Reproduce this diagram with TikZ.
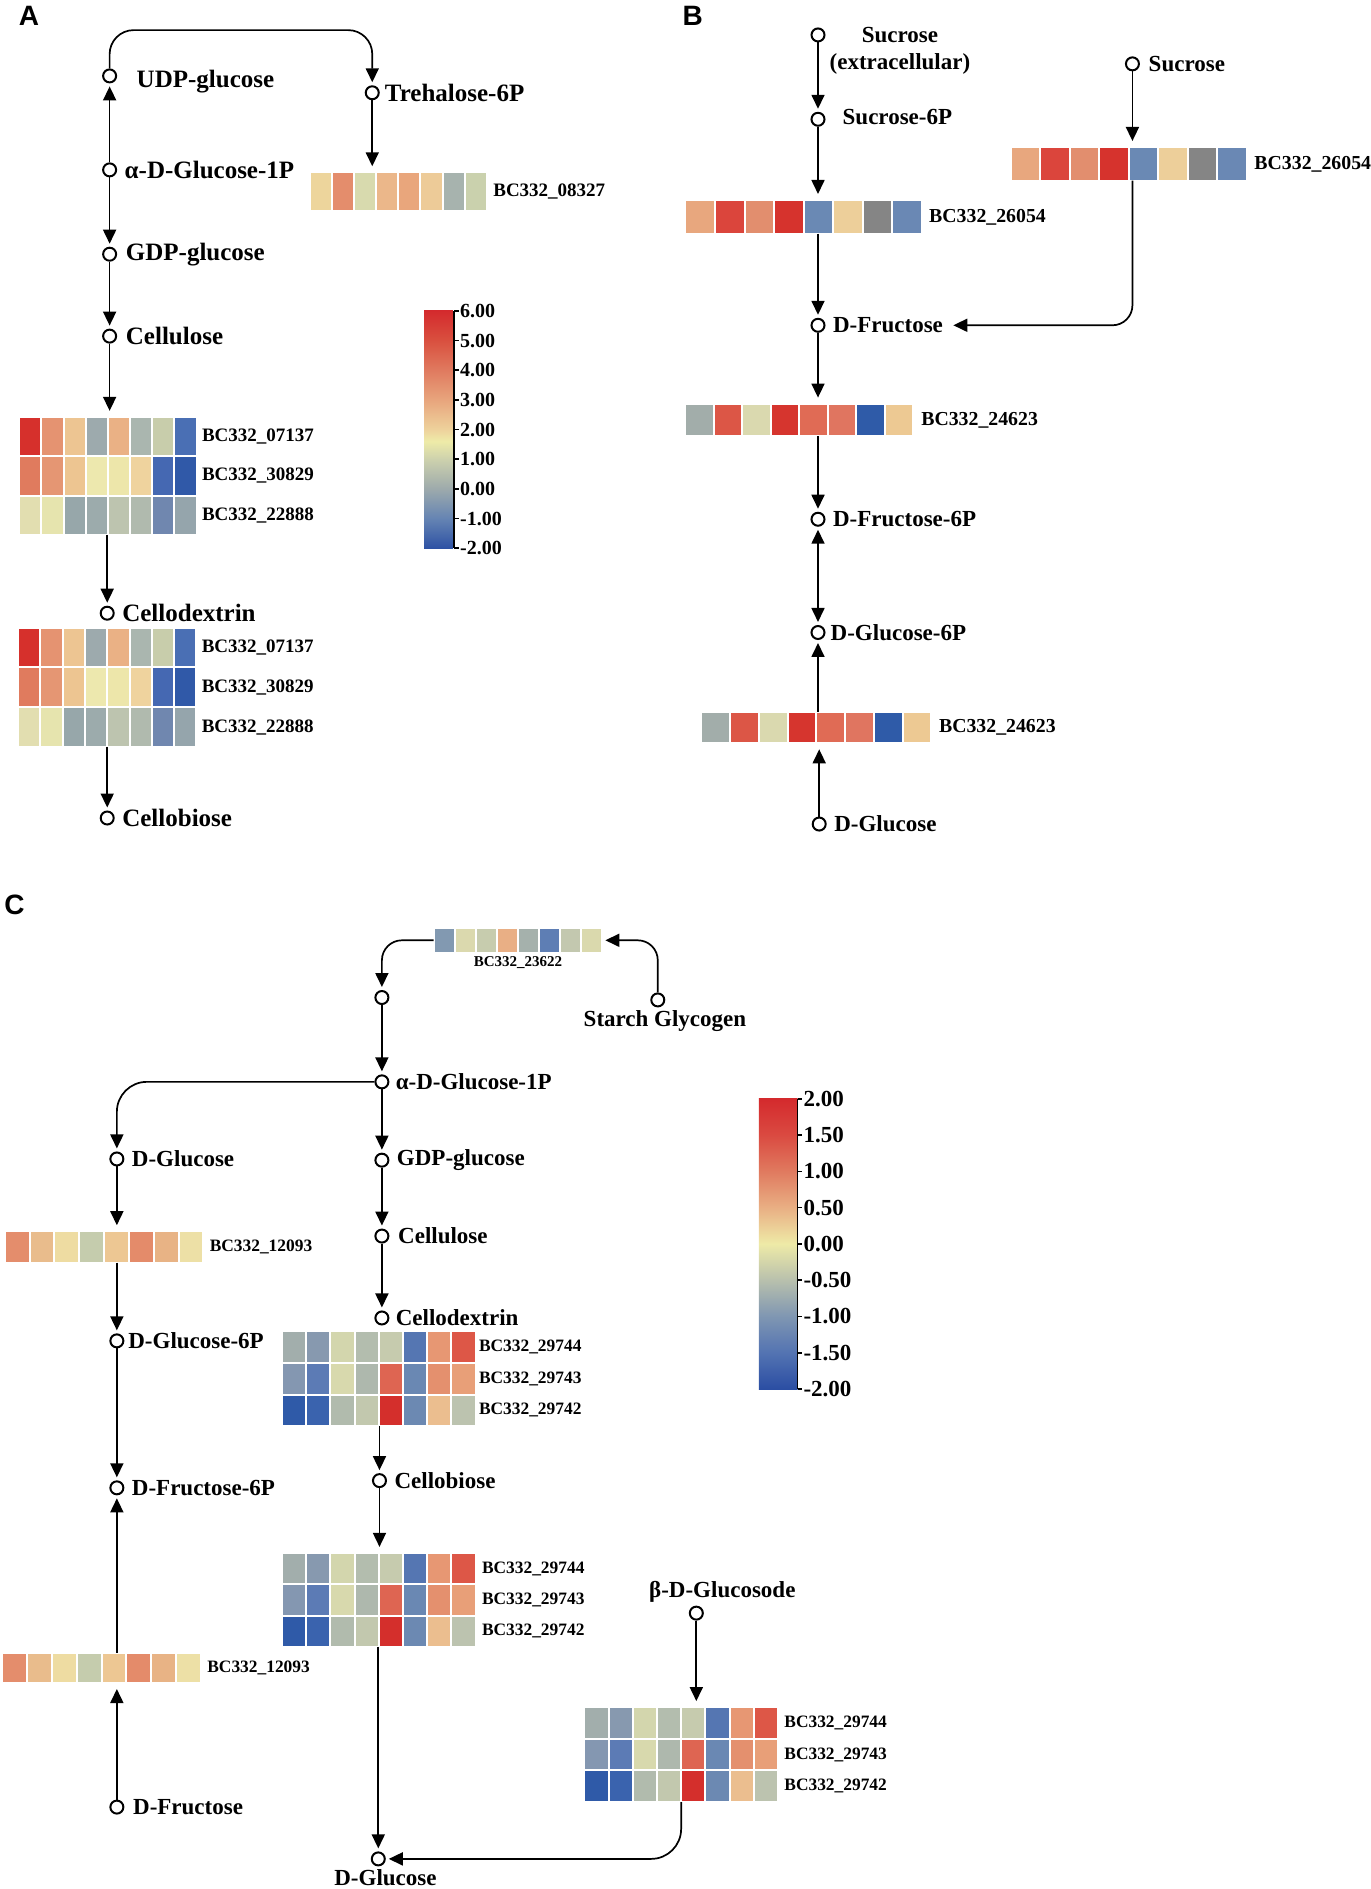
\documentclass[tikz,border=0pt]{standalone}
\usepackage{fontspec}
\setmainfont{Liberation Serif}
\newfontfamily\panelfont{Liberation Sans}
\usetikzlibrary{arrows.meta,positioning}

% colour bar of panel A (-2 ... 6)
\definecolor{bA0}{HTML}{2E52A4}\definecolor{bA1}{HTML}{6584B3}\definecolor{bA2}{HTML}{9DAAAC}
\definecolor{bA3}{HTML}{CDD1AD}\definecolor{bA4}{HTML}{EEEBA8}\definecolor{bA5}{HTML}{EED29C}
\definecolor{bA6}{HTML}{E8A57D}\definecolor{bA7}{HTML}{E07A5F}\definecolor{bA8}{HTML}{D9503F}
\definecolor{bA9}{HTML}{D42A2D}
\pgfdeclareverticalshading{barA}{100bp}{color(0bp)=(bA0); color(25bp)=(bA0); color(31.25bp)=(bA1);
  color(37.5bp)=(bA2); color(43.75bp)=(bA3); color(47.5bp)=(bA4); color(50bp)=(bA5);
  color(56.25bp)=(bA6); color(62.5bp)=(bA7); color(68.75bp)=(bA8); color(75bp)=(bA9); color(100bp)=(bA9)}
% colour bar of panel C (-2 ... 2)
\definecolor{bC0}{HTML}{2B4EA3}\definecolor{bC1}{HTML}{5373B2}\definecolor{bC2}{HTML}{7F96B2}
\definecolor{bC3}{HTML}{B8C0AD}\definecolor{bC4}{HTML}{EEEAA7}\definecolor{bC5}{HTML}{E9AF84}
\definecolor{bC6}{HTML}{E07A5F}\definecolor{bC7}{HTML}{DA4A41}\definecolor{bC8}{HTML}{D42A2D}
\pgfdeclareverticalshading{barC}{100bp}{color(0bp)=(bC0); color(25bp)=(bC0); color(31.25bp)=(bC1);
  color(37.5bp)=(bC2); color(43.75bp)=(bC3); color(50bp)=(bC4); color(56.25bp)=(bC5);
  color(62.5bp)=(bC6); color(68.75bp)=(bC7); color(75bp)=(bC8); color(100bp)=(bC8)}

\newlength\px \setlength\px{0.6024pt}
% one heat-map row: name, x, y, cell width, cell height, colours, label place, label
\newcommand{\hmrow}[8]{%
  \node[hmbox, minimum width={8*#4*\px}, minimum height={#5*\px}, anchor=north west] (#1) at (#2,#3) {};
  \foreach \hc [count=\i from 0] in {#6} {
    \edef\tmp{\noexpand\definecolor{cellfill}{HTML}{\hc}}\tmp
    \fill[cellfill, draw=white, line width=1pt] ({#2+\i*#4},#3) rectangle ++(#4,#5);
  }
  \node[gene, #7 of #1] (#1l) {#8};
}

\begin{document}
\begin{tikzpicture}[x=0.6024pt,y=-0.6024pt]
        \tikzstyle{metdot}=[circle, draw, line width=1pt, inner sep=0pt, minimum size=6.5pt];
        \tikzstyle{cpd}=[inner sep=1pt, font=\fontsize{12.5}{14}\selectfont\bfseries];
        \tikzstyle{gene}=[inner sep=1pt, font=\fontsize{9.5}{11}\selectfont\bfseries];
        \tikzstyle{hmbox}=[rectangle, inner sep=0pt, outer sep=0pt];
        \tikzstyle{arr}=[line width=0.85pt, -{Triangle[width=6.5pt,length=7pt]}, shorten >=1.5pt];
        \tikzstyle{tohm}=[shorten >=3pt];
        \tikzstyle{panel}=[inner sep=0pt, font=\panelfont\fontsize{14}{16}\selectfont\bfseries];
        \tikzstyle{cbtick}=[inner sep=1pt, anchor=west];
        \path[use as bounding box, fill=white] (0,0) rectangle (1138,1568);

        % ---------------- A ----------------
        \node[panel] (labA) at (24,13) {A};
        \node[metdot] (udpA) at (91,63) {};
        \node[cpd, right=8.6pt of udpA, yshift=-3pt] (udpAl) {UDP-glucose};
        \node[metdot] (treA) at (309,77) {};
        \node[cpd, right=1.4pt of treA] (treAl) {Trehalose-6P};
        \node[metdot] (alphaA) at (91,141) {};
        \node[cpd, right=2.6pt of alphaA] (alphaAl) {α-D-Glucose-1P};
        \node[metdot] (gdpA) at (91,211) {};
        \node[cpd, right=3.2pt of gdpA] (gdpAl) {GDP-glucose};
        \node[metdot] (celA) at (91,279) {};
        \node[cpd, right=3.2pt of celA] (celAl) {Cellulose};
        \node[metdot] (cdxA) at (89,509) {};
        \node[cpd, right=2.6pt of cdxA] (cdxAl) {Cellodextrin};
        \node[metdot] (cbiA) at (89,679) {};
        \node[cpd, right=2.6pt of cbiA] (cbiAl) {Cellobiose};
        \hmrow{hmA1}{257}{143}{18.4}{32}{EDD59C,E48D6C,D8DAAE,EBB78A,E9A67C,EDCB98,A7B3AE,CAD1AD}{right=2pt}{BC332\_08327}
        \hmrow{hmA2a}{16}{346}{18.4}{32.7}{D6302C,E59371,EDC592,9DAAAD,EAB185,AAB6AF,C8CDAB,4A6FB4}{right=1.5pt}{BC332\_07137}
        \hmrow{hmA2b}{16}{378.7}{18.4}{32.7}{E07B5E,E59673,EDC591,EDE8AE,EDE6AA,EFD39E,4568B2,3059A8}{right=1.5pt}{BC332\_30829}
        \hmrow{hmA2c}{16}{411.4}{18.4}{32.7}{E2DEB0,E6E4AE,97A7AA,9CABAC,BDC4AF,B0BAAE,7087AF,95A5AC}{right=1.5pt}{BC332\_22888}
        \hmrow{hmA3a}{15}{521}{18.5}{33}{D6302C,E59371,EDC592,9DAAAD,EAB185,AAB6AF,C8CDAB,4A6FB4}{right=1.5pt}{BC332\_07137}
        \hmrow{hmA3b}{15}{554}{18.5}{33}{E07B5E,E59673,EDC591,EDE8AE,EDE6AA,EFD39E,4568B2,3059A8}{right=1.5pt}{BC332\_30829}
        \hmrow{hmA3c}{15}{587}{18.5}{33}{E2DEB0,E6E4AE,97A7AA,9CABAC,BDC4AF,B0BAAE,7087AF,95A5AC}{right=1.5pt}{BC332\_22888}
        \coordinate (archA) at (0,25);
        \draw[arr, rounded corners=12pt] (udpA.north) -- (udpA.north |- archA) -- (treA.north |- archA) -- (treA.north);
        \draw[arr] (alphaA) -- (udpA);
        \draw[arr] (alphaA) -- (gdpA);
        \draw[arr] (gdpA) -- (celA);
        \draw[arr, tohm] (treA) -- (hmA1.north -| treA);
        \draw[arr, tohm] (celA) -- (hmA2a.north -| celA);
        \draw[arr] (hmA2c.south -| cdxA) -- (cdxA);
        \draw[arr] (hmA3c.south -| cbiA) -- (cbiA);
        % colour bar A
        \shade[shading=barA] (352,258) rectangle (376,455);
        \draw[line width=0.8pt] (377,258) -- (377,455);
        \foreach \v [count=\i from 0] in {6.00,5.00,4.00,3.00,2.00,1.00,0.00,-1.00,-2.00} {
            \draw[line width=0.8pt] (377,{258+\i*24.625}) -- ++(4,0);
            \node[cbtick, font=\fontsize{10}{12}\selectfont\bfseries] (cbA\i) at (380,{258+\i*24.625}) {\v};
        }

        % ---------------- B ----------------
        \begin{scope}[cpd/.style={inner sep=1pt, font=\fontsize{11.5}{13.3}\selectfont\bfseries},
                      gene/.style={inner sep=1pt, font=\fontsize{9.9}{11}\selectfont\bfseries}]
        \node[panel] (labB) at (575,13) {B};
        \node[metdot] (sexB) at (679,29) {};
        \node[cpd, align=center] (sexBl) at (747,42) {Sucrose\\(extracellular)};
        \node[metdot] (s6pB) at (679,99) {};
        \node[cpd, right=7.4pt of s6pB, yshift=1pt] (s6pBl) {Sucrose-6P};
        \node[metdot] (sucB) at (940,53) {};
        \node[cpd, right=3.2pt of sucB] (sucBl) {Sucrose};
        \hmrow{hmB1}{569}{166}{24.5}{28}{E8A77E,DB453C,E28E6E,D6332D,6A89B4,EDCF9A,858585,6A88B4}{right=2.6pt}{BC332\_26054}
        \hmrow{hmB2}{839}{122}{24.5}{28}{E8A77E,DB453C,E28E6E,D6332D,6A89B4,EDCF9A,858585,6A88B4}{right=2.6pt}{BC332\_26054}
        \node[metdot] (fruB) at (679,270) {};
        \node[cpd, right=2.6pt of fruB] (fruBl) {D-Fructose};
        \hmrow{hmB3}{569}{335}{23.6}{27}{A2ADAA,DC5646,DAD9AF,D6352E,E06B55,E07560,2F5BA8,EDC993}{right=3pt}{BC332\_24623}
        \node[metdot] (f6pB) at (679,431) {};
        \node[cpd, right=2.6pt of f6pB] (f6pBl) {D-Fructose-6P};
        \node[metdot] (g6pB) at (679,525) {};
        \node[cpd, right=1.4pt of g6pB] (g6pBl) {D-Glucose-6P};
        \hmrow{hmB4}{582}{591}{23.9}{26}{A2ADAA,DC5646,DAD9AF,D6352E,E06B55,E07560,2F5BA8,EDC993}{right=2.6pt}{BC332\_24623}
        \node[metdot] (glcB) at (680,684) {};
        \node[cpd, right=2.6pt of glcB] (glcBl) {D-Glucose};
        \draw[arr] (sexB) -- (s6pB);
        \draw[arr, tohm] (s6pB) -- (hmB1.north -| s6pB);
        \draw[arr] (hmB1.south -| fruB) -- (fruB);
        \draw[arr, tohm] (sucB) -- (hmB2.north -| sucB);
        \draw[arr, rounded corners=10pt, shorten >=4pt] (hmB2.south -| sucB) |- (fruBl.east);
        \draw[arr, tohm] (fruB) -- (hmB3.north -| fruB);
        \draw[arr] (hmB3.south -| f6pB) -- (f6pB);
        \draw[arr, {Triangle[width=6.5pt,length=7pt]}-{Triangle[width=6.5pt,length=7pt]}, shorten <=1.5pt] (f6pB) -- (g6pB);
        \draw[arr] (hmB4.north -| g6pB) -- (g6pB);
        \draw[arr, tohm] (glcB) -- (hmB4.south -| glcB);
        \end{scope}

        % ---------------- C ----------------
        \begin{scope}[cpd/.style={inner sep=1pt, font=\fontsize{11.5}{13.3}\selectfont\bfseries},
                      gene/.style={inner sep=1pt, font=\fontsize{8.7}{10}\selectfont\bfseries}]
        \node[panel] (labC) at (12,751) {C};
        \begin{scope}[gene/.style={inner sep=0.5pt, font=\fontsize{7.5}{9}\selectfont\bfseries}]
        \hmrow{hmC1}{360}{770}{17.5}{21}{8299B1,DBD9AE,C7CCAE,E9AF85,A5B1AC,5E7EB4,C3C8AF,DAD9AD}{below=1pt}{BC332\_23622}
        \end{scope}
        \node[metdot] (emptyC) at (317,828) {};
        \node[metdot] (starC) at (546,830) {};
        \node[cpd, below=0.5pt of starC, xshift=3.6pt] (starCl) {Starch Glycogen};
        \node[metdot] (alphaC) at (317,898) {};
        \node[cpd, right=2pt of alphaC] (alphaCl) {α-D-Glucose-1P};
        \node[metdot] (glcC) at (97,962) {};
        \node[cpd, right=2.6pt of glcC] (glcCl) {D-Glucose};
        \node[metdot] (gdpC) at (317,963) {};
        \node[cpd, right=2.6pt of gdpC] (gdpCl) {GDP-glucose};
        \node[metdot] (celC) at (317,1026) {};
        \node[cpd, right=3.2pt of celC] (celCl) {Cellulose};
        \node[metdot] (cdxC) at (317,1094) {};
        \node[cpd, right=2pt of cdxC] (cdxCl) {Cellodextrin};
        \hmrow{hmC2a}{234}{1105}{20.1}{26.3}{A2AEAC,8799AF,D3D6AD,B3BDAE,C6CBAE,5576B2,E79773,DD5747}{right=0.5pt}{BC332\_29744}
        \hmrow{hmC2b}{234}{1131.3}{20.1}{26.3}{8497B1,5C7BB5,D8D9AD,AEB8AD,DE6552,6A88B3,E4906E,E89F78}{right=0.5pt}{BC332\_29743}
        \hmrow{hmC2c}{234}{1157.6}{20.1}{26.3}{2F5AA8,3A63AE,B1BBAD,C2C8AE,D42F2C,6C89B2,EBBE8F,BCC3AF}{right=0.5pt}{BC332\_29742}
        \node[metdot] (cbiC) at (315,1229) {};
        \node[cpd, right=2.6pt of cbiC] (cbiCl) {Cellobiose};
        \hmrow{hmC4a}{234}{1289}{20.1}{26}{A2AEAC,8799AF,D3D6AD,B3BDAE,C6CBAE,5576B2,E79773,DD5747}{right=2pt}{BC332\_29744}
        \hmrow{hmC4b}{234}{1315}{20.1}{26}{8497B1,5C7BB5,D8D9AD,AEB8AD,DE6552,6A88B3,E4906E,E89F78}{right=2pt}{BC332\_29743}
        \hmrow{hmC4c}{234}{1341}{20.1}{26}{2F5AA8,3A63AE,B1BBAD,C2C8AE,D42F2C,6C89B2,EBBE8F,BCC3AF}{right=2pt}{BC332\_29742}
        \node[metdot] (glc2C) at (314,1543) {};
        \node[cpd, below=0.5pt of glc2C, xshift=3.6pt] (glc2Cl) {D-Glucose};
        \node[metdot] (betaC) at (578,1339) {};
        \node[cpd, above=0.5pt of betaC, xshift=13pt] (betaCl) {β-D-Glucosode};
        \hmrow{hmC5a}{485}{1417}{20.1}{26.3}{A2AEAC,8799AF,D3D6AD,B3BDAE,C6CBAE,5576B2,E79773,DD5747}{right=2pt}{BC332\_29744}
        \hmrow{hmC5b}{485}{1443.3}{20.1}{26.3}{8497B1,5C7BB5,D8D9AD,AEB8AD,DE6552,6A88B3,E4906E,E89F78}{right=2pt}{BC332\_29743}
        \hmrow{hmC5c}{485}{1469.6}{20.1}{26.3}{2F5AA8,3A63AE,B1BBAD,C2C8AE,D42F2C,6C89B2,EBBE8F,BCC3AF}{right=2pt}{BC332\_29742}
        \hmrow{hmCg}{4}{1022}{20.6}{26}{E48D6C,E9BC8C,EEDCA2,C5CCAD,EDC793,E48B6A,E8B385,EDE0A6}{right=2pt}{BC332\_12093}
        \node[metdot] (g6pC) at (97,1113) {};
        \node[cpd, right=0.8pt of g6pC] (g6pCl) {D-Glucose-6P};
        \node[metdot] (f6pC) at (97,1235) {};
        \node[cpd, right=2.6pt of f6pC] (f6pCl) {D-Fructose-6P};
        \hmrow{hmCf}{2}{1372}{20.6}{25}{E48D6C,E9BC8C,EEDCA2,C5CCAD,EDC793,E48B6A,E8B385,EDE0A6}{right=2pt}{BC332\_12093}
        \node[metdot] (fruC) at (97,1500) {};
        \node[cpd, right=3.2pt of fruC] (fruCl) {D-Fructose};
        \draw[arr, rounded corners=10pt] (hmC1.west) -| (emptyC);
        \draw[arr, rounded corners=10pt] (starC) |- (hmC1.east);
        \draw[arr] (emptyC) -- (alphaC);
        \draw[arr, rounded corners=15pt] (alphaC.west) -| (glcC);
        \draw[arr] (alphaC) -- (gdpC);
        \draw[arr] (gdpC) -- (celC);
        \draw[arr] (celC) -- (cdxC);
        \draw[arr] (hmC2c.south -| cbiC) -- (cbiC);
        \draw[arr, tohm] (cbiC) -- (hmC4a.north -| cbiC);
        \draw[arr] (hmC4c.south -| glc2C) -- (glc2C);
        \draw[arr, tohm] (betaC) -- (hmC5a.north -| betaC);
        \draw[arr, rounded corners=15pt] (hmC5c.south) |- (glc2C.east);
        \draw[arr, tohm] (glcC) -- (hmCg.north -| glcC);
        \draw[arr] (hmCg.south -| g6pC) -- (g6pC);
        \draw[arr] (g6pC) -- (f6pC);
        \draw[arr] (hmCf.north -| f6pC) -- (f6pC);
        \draw[arr, tohm] (fruC) -- (hmCf.south -| fruC);
        % colour bar C
        \shade[shading=barC] (630,912) rectangle (662,1153);
        \draw[line width=0.8pt] (662,912) -- (662,1153);
        \foreach \v [count=\i from 0] in {2.00,1.50,1.00,0.50,0.00,-0.50,-1.00,-1.50,-2.00} {
            \draw[line width=0.8pt] (662,{912+\i*30.125}) -- ++(4,0);
            \node[cbtick, font=\fontsize{11.5}{13}\selectfont\bfseries] (cbC\i) at (665,{912+\i*30.125}) {\v};
        }
        \end{scope}
\end{tikzpicture}
\end{document}
